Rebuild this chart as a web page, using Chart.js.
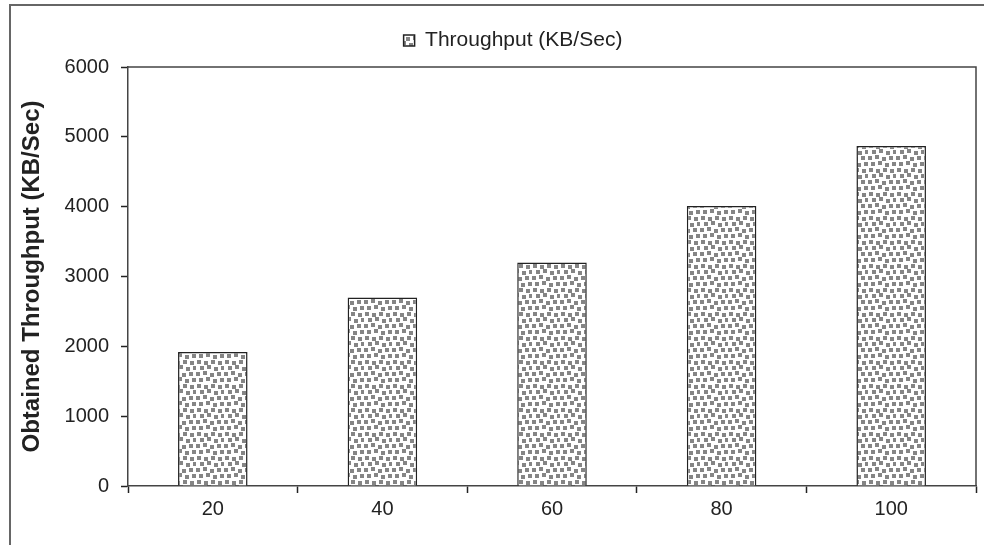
<!DOCTYPE html>
<html>
<head>
<meta charset="utf-8">
<script src="https://cdn.jsdelivr.net/npm/chart.js@4"></script>
<style>
  html, body { margin: 0; padding: 0; background: #fff; }
  #wrap { width: 984px; height: 545px; }
</style>
</head>
<body>
<div id="wrap"><canvas id="chart" width="984" height="545"></canvas></div>
<script>
// Data
const categories = ['20', '40', '60', '80', '100'];
const throughput = [1920, 2700, 3200, 4010, 4870];
const yTickLabels = ['0', '1000', '2000', '3000', '4000', '5000', '6000'];
const seriesLabel = 'Throughput (KB/Sec)';
const yTitle = 'Obtained Throughput (KB/Sec)';

// Speckled fill like the original (fixed tile, no randomness)
function makePattern() {
  const tile = document.createElement('canvas');
  tile.width = 28;
  tile.height = 24;
  const c = tile.getContext('2d');
  c.fillStyle = '#fff';
  c.fillRect(0, 0, 28, 24);
  c.fillStyle = '#858585';
  const squares = [
    [1, 0], [8, 1], [15, 0], [22, 1],
    [4, 6], [11, 5], [18, 7], [25, 6],
    [0, 12], [7, 11], [14, 13], [21, 12],
    [3, 18], [10, 17], [17, 19], [24, 18]
  ];
  for (const [x, y] of squares) c.fillRect(x, y, 4, 4);
  return c.createPattern(tile, 'repeat');
}

const ctx = document.getElementById('chart').getContext('2d');

// Nudge the legend to where the original has it
const legendShift = {
  id: 'legendShift',
  afterLayout(chart) {
    const lg = chart.legend;
    lg.left += 16; lg.right += 16;
    lg.top -= 6; lg.bottom -= 6;
  }
};

// Plot-area frame and outer border
const frame = {
  id: 'frame',
  afterDraw(chart) {
    const { ctx, chartArea: a } = chart;
    ctx.save();
    ctx.strokeStyle = '#444';
    ctx.lineWidth = 1.5;
    ctx.beginPath();
    ctx.moveTo(a.left, a.top);
    ctx.lineTo(a.right, a.top);
    ctx.lineTo(a.right, a.bottom);
    ctx.stroke();
    ctx.strokeStyle = '#666';
    ctx.lineWidth = 2;
    ctx.strokeRect(10, 5, 1000, 600);
    ctx.restore();
  }
};

new Chart(ctx, {
  type: 'bar',
  data: {
    labels: categories,
    datasets: [{
      label: seriesLabel,
      data: throughput,
      backgroundColor: makePattern(),
      borderColor: '#222',
      borderWidth: 1.5,
      barPercentage: 0.41,
      categoryPercentage: 1
    }]
  },
  options: {
    responsive: false,
    animation: false,
    layout: { padding: { left: 18, right: 8, top: 10, bottom: 20 } },
    plugins: {
      legend: {
        labels: {
          color: '#222',
          font: { family: 'Liberation Sans', size: 21 },
          boxWidth: 11,
          boxHeight: 11,
          padding: 26
        }
      },
      tooltip: { enabled: false }
    },
    scales: {
      x: {
        grid: {
          offset: true,
          drawOnChartArea: false,
          tickLength: 7,
          tickColor: '#222',
          tickWidth: 1.5
        },
        border: { color: '#444', width: 1.5 },
        ticks: {
          color: '#222',
          padding: 4,
          font: { family: 'Liberation Sans', size: 20 }
        }
      },
      y: {
        min: 0,
        max: 6000,
        afterFit(axis) { axis.width = 110; },
        grid: {
          drawOnChartArea: false,
          tickLength: 7,
          tickColor: '#222',
          tickWidth: 1.5
        },
        border: { color: '#444', width: 1.5 },
        ticks: {
          stepSize: 1000,
          color: '#222',
          padding: 12,
          font: { family: 'Liberation Sans', size: 20 },
          callback: (v, i) => yTickLabels[i]
        },
        title: {
          display: true,
          text: yTitle,
          color: '#222',
          padding: 0,
          font: { family: 'Liberation Sans', size: 24, weight: 'bold' }
        }
      }
    }
  },
  plugins: [legendShift, frame]
});
</script>
</body>
</html>
